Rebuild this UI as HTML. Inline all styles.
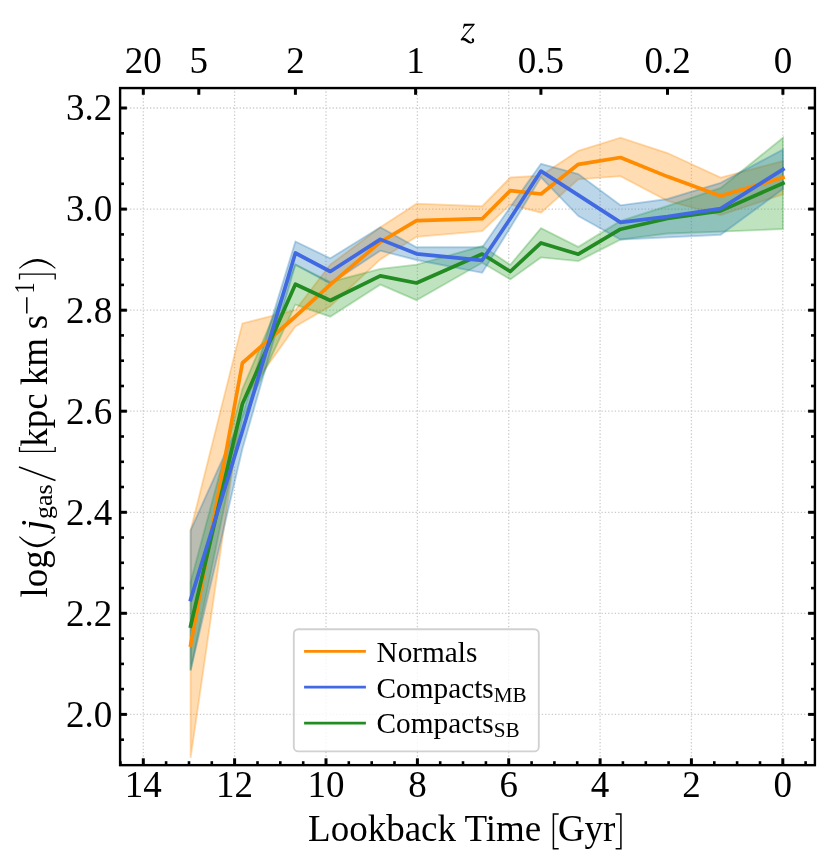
<!DOCTYPE html>
<html><head><meta charset="utf-8"><title>j_gas vs lookback time</title>
<style>html,body{margin:0;padding:0;background:#fff}svg{display:block;will-change:transform;filter:opacity(1)}text{font-family:"Liberation Serif",serif;fill:#000}</style></head><body>
<svg width="830" height="865" viewBox="0 0 830 865">
<rect width="830" height="865" fill="#fff"/>
<defs><clipPath id="c"><rect x="120.1" y="88.05" width="694.8" height="677.0500000000001"/></clipPath></defs>
<g stroke="#cccccc" stroke-width="1.3" stroke-dasharray="1.3 2.02" fill="none">
<line x1="782.8" y1="88.05" x2="782.8" y2="765.1"/>
<line x1="691.4" y1="88.05" x2="691.4" y2="765.1"/>
<line x1="600.1" y1="88.05" x2="600.1" y2="765.1"/>
<line x1="508.7" y1="88.05" x2="508.7" y2="765.1"/>
<line x1="417.4" y1="88.05" x2="417.4" y2="765.1"/>
<line x1="326.0" y1="88.05" x2="326.0" y2="765.1"/>
<line x1="234.6" y1="88.05" x2="234.6" y2="765.1"/>
<line x1="143.3" y1="88.05" x2="143.3" y2="765.1"/>
<line x1="120.1" y1="714.4" x2="814.9" y2="714.4"/>
<line x1="120.1" y1="613.3" x2="814.9" y2="613.3"/>
<line x1="120.1" y1="512.3" x2="814.9" y2="512.3"/>
<line x1="120.1" y1="411.2" x2="814.9" y2="411.2"/>
<line x1="120.1" y1="310.2" x2="814.9" y2="310.2"/>
<line x1="120.1" y1="209.1" x2="814.9" y2="209.1"/>
<line x1="120.1" y1="108.0" x2="814.9" y2="108.0"/>
</g>
<g clip-path="url(#c)">
<polygon points="190.6,530.3 242.4,323.4 295.4,310.0 330.3,264.6 380.3,227.3 416.5,203.7 482.2,206.2 510.3,177.5 541.0,175.6 578.3,150.8 620.5,137.7 667.5,153.0 720.7,177.6 783.0,161.0 783.0,194.3 720.7,215.1 667.5,201.0 620.5,176.2 578.3,179.3 541.0,212.7 510.3,204.5 482.2,231.1 416.5,236.8 380.3,259.4 330.3,306.2 295.4,326.5 242.4,401.0 190.6,757.8" fill="#ff8c00" fill-opacity="0.3" stroke="#ff8c00" stroke-opacity="0.3" stroke-width="1.85" stroke-linejoin="miter"/>
<polygon points="190.6,582.0 242.4,389.0 295.4,264.6 330.3,282.0 380.3,268.9 416.5,264.7 482.2,246.1 510.3,264.8 541.0,228.1 578.3,246.9 620.5,220.9 667.5,206.0 720.7,188.0 783.0,137.7 783.0,229.0 720.7,231.7 667.5,233.5 620.5,239.6 578.3,261.1 541.0,257.4 510.3,279.4 482.2,262.8 416.5,300.2 380.3,284.6 330.3,316.7 295.4,304.6 242.4,419.0 190.6,670.4" fill="#2ca02c" fill-opacity="0.3" stroke="#2ca02c" stroke-opacity="0.3" stroke-width="1.85" stroke-linejoin="miter"/>
<polygon points="190.6,530.3 242.4,415.0 295.4,241.5 330.3,258.3 380.3,227.3 416.5,247.2 482.2,247.2 510.3,207.0 541.0,163.8 578.3,174.1 620.5,205.3 667.5,199.0 720.7,182.8 783.0,149.5 783.0,189.1 720.7,234.8 667.5,237.3 620.5,239.6 578.3,216.1 541.0,177.3 510.3,227.8 482.2,272.8 416.5,260.0 380.3,250.7 330.3,283.7 295.4,264.6 242.4,449.0 190.6,670.4" fill="#1f77b4" fill-opacity="0.3" stroke="#1f77b4" stroke-opacity="0.3" stroke-width="1.85" stroke-linejoin="miter"/>
<polyline points="190.6,645.0 242.4,363.0 295.4,316.5 330.3,284.6 380.3,242.0 416.5,220.6 482.2,218.7 510.3,190.6 541.0,194.0 578.3,164.3 620.5,157.5 667.5,176.6 720.7,195.9 783.0,177.6" fill="none" stroke="#ff8c00" stroke-width="3.7" stroke-linejoin="round" stroke-linecap="square"/>
<polyline points="190.6,626.0 242.4,404.0 295.4,284.2 330.3,300.5 380.3,275.9 416.5,283.0 482.2,254.0 510.3,271.5 541.0,242.9 578.3,254.2 620.5,229.2 667.5,218.5 720.7,210.9 783.0,183.2" fill="none" stroke="#228b22" stroke-width="3.7" stroke-linejoin="round" stroke-linecap="square"/>
<polyline points="190.6,599.6 242.4,431.0 295.4,253.0 330.3,271.5 380.3,239.4 416.5,253.8 482.2,260.3 510.3,218.5 541.0,171.1 578.3,195.1 620.5,222.4 667.5,216.6 720.7,208.6 783.0,169.3" fill="none" stroke="#4169e1" stroke-width="3.7" stroke-linejoin="round" stroke-linecap="square"/>
</g>
<g stroke="#000" stroke-width="3.0" fill="none">
<line x1="805.6" y1="765.1" x2="805.6" y2="761.2" stroke-width="2.6"/>
<line x1="782.8" y1="765.1" x2="782.8" y2="758.3" stroke-width="3.0"/>
<line x1="760.0" y1="765.1" x2="760.0" y2="761.2" stroke-width="2.6"/>
<line x1="737.1" y1="765.1" x2="737.1" y2="761.2" stroke-width="2.6"/>
<line x1="714.3" y1="765.1" x2="714.3" y2="761.2" stroke-width="2.6"/>
<line x1="691.4" y1="765.1" x2="691.4" y2="758.3" stroke-width="3.0"/>
<line x1="668.6" y1="765.1" x2="668.6" y2="761.2" stroke-width="2.6"/>
<line x1="645.8" y1="765.1" x2="645.8" y2="761.2" stroke-width="2.6"/>
<line x1="622.9" y1="765.1" x2="622.9" y2="761.2" stroke-width="2.6"/>
<line x1="600.1" y1="765.1" x2="600.1" y2="758.3" stroke-width="3.0"/>
<line x1="577.2" y1="765.1" x2="577.2" y2="761.2" stroke-width="2.6"/>
<line x1="554.4" y1="765.1" x2="554.4" y2="761.2" stroke-width="2.6"/>
<line x1="531.6" y1="765.1" x2="531.6" y2="761.2" stroke-width="2.6"/>
<line x1="508.7" y1="765.1" x2="508.7" y2="758.3" stroke-width="3.0"/>
<line x1="485.9" y1="765.1" x2="485.9" y2="761.2" stroke-width="2.6"/>
<line x1="463.0" y1="765.1" x2="463.0" y2="761.2" stroke-width="2.6"/>
<line x1="440.2" y1="765.1" x2="440.2" y2="761.2" stroke-width="2.6"/>
<line x1="417.4" y1="765.1" x2="417.4" y2="758.3" stroke-width="3.0"/>
<line x1="394.5" y1="765.1" x2="394.5" y2="761.2" stroke-width="2.6"/>
<line x1="371.7" y1="765.1" x2="371.7" y2="761.2" stroke-width="2.6"/>
<line x1="348.8" y1="765.1" x2="348.8" y2="761.2" stroke-width="2.6"/>
<line x1="326.0" y1="765.1" x2="326.0" y2="758.3" stroke-width="3.0"/>
<line x1="303.2" y1="765.1" x2="303.2" y2="761.2" stroke-width="2.6"/>
<line x1="280.3" y1="765.1" x2="280.3" y2="761.2" stroke-width="2.6"/>
<line x1="257.5" y1="765.1" x2="257.5" y2="761.2" stroke-width="2.6"/>
<line x1="234.6" y1="765.1" x2="234.6" y2="758.3" stroke-width="3.0"/>
<line x1="211.8" y1="765.1" x2="211.8" y2="761.2" stroke-width="2.6"/>
<line x1="189.0" y1="765.1" x2="189.0" y2="761.2" stroke-width="2.6"/>
<line x1="166.1" y1="765.1" x2="166.1" y2="761.2" stroke-width="2.6"/>
<line x1="143.3" y1="765.1" x2="143.3" y2="758.3" stroke-width="3.0"/>
<line x1="120.4" y1="765.1" x2="120.4" y2="761.2" stroke-width="2.6"/>
<line x1="120.1" y1="739.7" x2="124.0" y2="739.7" stroke-width="2.6"/>
<line x1="814.9" y1="739.7" x2="811.0" y2="739.7" stroke-width="2.6"/>
<line x1="120.1" y1="714.4" x2="126.9" y2="714.4" stroke-width="3.0"/>
<line x1="814.9" y1="714.4" x2="808.1" y2="714.4" stroke-width="3.0"/>
<line x1="120.1" y1="689.1" x2="124.0" y2="689.1" stroke-width="2.6"/>
<line x1="814.9" y1="689.1" x2="811.0" y2="689.1" stroke-width="2.6"/>
<line x1="120.1" y1="663.9" x2="124.0" y2="663.9" stroke-width="2.6"/>
<line x1="814.9" y1="663.9" x2="811.0" y2="663.9" stroke-width="2.6"/>
<line x1="120.1" y1="638.6" x2="124.0" y2="638.6" stroke-width="2.6"/>
<line x1="814.9" y1="638.6" x2="811.0" y2="638.6" stroke-width="2.6"/>
<line x1="120.1" y1="613.3" x2="126.9" y2="613.3" stroke-width="3.0"/>
<line x1="814.9" y1="613.3" x2="808.1" y2="613.3" stroke-width="3.0"/>
<line x1="120.1" y1="588.1" x2="124.0" y2="588.1" stroke-width="2.6"/>
<line x1="814.9" y1="588.1" x2="811.0" y2="588.1" stroke-width="2.6"/>
<line x1="120.1" y1="562.8" x2="124.0" y2="562.8" stroke-width="2.6"/>
<line x1="814.9" y1="562.8" x2="811.0" y2="562.8" stroke-width="2.6"/>
<line x1="120.1" y1="537.5" x2="124.0" y2="537.5" stroke-width="2.6"/>
<line x1="814.9" y1="537.5" x2="811.0" y2="537.5" stroke-width="2.6"/>
<line x1="120.1" y1="512.3" x2="126.9" y2="512.3" stroke-width="3.0"/>
<line x1="814.9" y1="512.3" x2="808.1" y2="512.3" stroke-width="3.0"/>
<line x1="120.1" y1="487.0" x2="124.0" y2="487.0" stroke-width="2.6"/>
<line x1="814.9" y1="487.0" x2="811.0" y2="487.0" stroke-width="2.6"/>
<line x1="120.1" y1="461.8" x2="124.0" y2="461.8" stroke-width="2.6"/>
<line x1="814.9" y1="461.8" x2="811.0" y2="461.8" stroke-width="2.6"/>
<line x1="120.1" y1="436.5" x2="124.0" y2="436.5" stroke-width="2.6"/>
<line x1="814.9" y1="436.5" x2="811.0" y2="436.5" stroke-width="2.6"/>
<line x1="120.1" y1="411.2" x2="126.9" y2="411.2" stroke-width="3.0"/>
<line x1="814.9" y1="411.2" x2="808.1" y2="411.2" stroke-width="3.0"/>
<line x1="120.1" y1="386.0" x2="124.0" y2="386.0" stroke-width="2.6"/>
<line x1="814.9" y1="386.0" x2="811.0" y2="386.0" stroke-width="2.6"/>
<line x1="120.1" y1="360.7" x2="124.0" y2="360.7" stroke-width="2.6"/>
<line x1="814.9" y1="360.7" x2="811.0" y2="360.7" stroke-width="2.6"/>
<line x1="120.1" y1="335.4" x2="124.0" y2="335.4" stroke-width="2.6"/>
<line x1="814.9" y1="335.4" x2="811.0" y2="335.4" stroke-width="2.6"/>
<line x1="120.1" y1="310.2" x2="126.9" y2="310.2" stroke-width="3.0"/>
<line x1="814.9" y1="310.2" x2="808.1" y2="310.2" stroke-width="3.0"/>
<line x1="120.1" y1="284.9" x2="124.0" y2="284.9" stroke-width="2.6"/>
<line x1="814.9" y1="284.9" x2="811.0" y2="284.9" stroke-width="2.6"/>
<line x1="120.1" y1="259.6" x2="124.0" y2="259.6" stroke-width="2.6"/>
<line x1="814.9" y1="259.6" x2="811.0" y2="259.6" stroke-width="2.6"/>
<line x1="120.1" y1="234.4" x2="124.0" y2="234.4" stroke-width="2.6"/>
<line x1="814.9" y1="234.4" x2="811.0" y2="234.4" stroke-width="2.6"/>
<line x1="120.1" y1="209.1" x2="126.9" y2="209.1" stroke-width="3.0"/>
<line x1="814.9" y1="209.1" x2="808.1" y2="209.1" stroke-width="3.0"/>
<line x1="120.1" y1="183.8" x2="124.0" y2="183.8" stroke-width="2.6"/>
<line x1="814.9" y1="183.8" x2="811.0" y2="183.8" stroke-width="2.6"/>
<line x1="120.1" y1="158.6" x2="124.0" y2="158.6" stroke-width="2.6"/>
<line x1="814.9" y1="158.6" x2="811.0" y2="158.6" stroke-width="2.6"/>
<line x1="120.1" y1="133.3" x2="124.0" y2="133.3" stroke-width="2.6"/>
<line x1="814.9" y1="133.3" x2="811.0" y2="133.3" stroke-width="2.6"/>
<line x1="120.1" y1="108.0" x2="126.9" y2="108.0" stroke-width="3.0"/>
<line x1="814.9" y1="108.0" x2="808.1" y2="108.0" stroke-width="3.0"/>
<line x1="143.3" y1="88.05" x2="143.3" y2="94.8"/>
<line x1="198.8" y1="88.05" x2="198.8" y2="94.8"/>
<line x1="295.4" y1="88.05" x2="295.4" y2="94.8"/>
<line x1="415.6" y1="88.05" x2="415.6" y2="94.8"/>
<line x1="540.9" y1="88.05" x2="540.9" y2="94.8"/>
<line x1="667.5" y1="88.05" x2="667.5" y2="94.8"/>
<line x1="782.9" y1="88.05" x2="782.9" y2="94.8"/>
</g>
<rect x="120.1" y="88.05" width="694.8" height="677.1" fill="none" stroke="#000" stroke-width="2.4"/>
<g font-size="37px" text-anchor="middle">
<text x="782.8" y="796.9">0</text>
<text x="691.4" y="796.9">2</text>
<text x="600.1" y="796.9">4</text>
<text x="508.7" y="796.9">6</text>
<text x="417.4" y="796.9">8</text>
<text x="326.0" y="796.9">10</text>
<text x="234.6" y="796.9">12</text>
<text x="143.3" y="796.9">14</text>
<text x="143.3" y="72.6">20</text>
<text x="198.8" y="72.6">5</text>
<text x="295.4" y="72.6">2</text>
<text x="415.6" y="72.6">1</text>
<text x="540.9" y="72.6">0.5</text>
<text x="667.5" y="72.6">0.2</text>
<text x="782.9" y="72.6">0</text>
</g>
<g font-size="37px" text-anchor="end">
<text x="112.3" y="726.7">2.0</text>
<text x="112.3" y="625.6">2.2</text>
<text x="112.3" y="524.6">2.4</text>
<text x="112.3" y="423.5">2.6</text>
<text x="112.3" y="322.5">2.8</text>
<text x="112.3" y="221.4">3.0</text>
<text x="112.3" y="120.3">3.2</text>
</g>
<text x="308.1" y="840.9" font-size="37px">Lookback</text>
<text x="464.4" y="840.9" font-size="37px">Time</text>
<text x="557.9" y="840.9" font-size="37px">Gyr</text>
<path d="M558.7,813.9 H553.4 V848.7 H558.7" fill="none" stroke="#000" stroke-width="1.5"/>
<path d="M615.6,813.9 H620.9 V848.7 H615.6" fill="none" stroke="#000" stroke-width="1.5"/>
<g id="zlab"><path d="M463.9,23.7 L474.8,23.7 L473.7,25.5 L465.4,25.9 Q464.3,26.3 463.7,28.6 L462.9,28.6 Z" fill="#000"/>
<path d="M474.2,24.2 L461.0,39.9" fill="none" stroke="#000" stroke-width="1.15"/>
<path d="M460.7,40.4 L462.7,37.8 Q465.6,37.5 467.6,39.5 Q469.9,42.1 471.6,41.9 Q472.6,41.7 472.2,40.7 A1.25,1.25 0 1 1 474.1,39.8 Q474.7,43.1 470.9,43.4 Q468.4,43.5 466.0,41.4 Q463.6,39.6 460.7,40.4 Z" fill="#000"/></g>
<g transform="translate(47,597) rotate(-90)" font-size="37px">
<text x="-0.5" y="0">log</text>
<path d="M59.9,-28 Q39.7,-9.65 59.9,8.7 L60.7,8.0 Q44.2,-9.65 60.7,-27.3 Z" fill="#000"/>
<text x="67" y="0" font-style="italic">j</text>
<text x="78" y="4.9" font-size="25.9px">gas</text>
<line x1="116.5" y1="8.5" x2="130" y2="-28" stroke="#000" stroke-width="1.6"/>
<path d="M149.9,-27.5 H145.6 V8.2 H149.9" fill="none" stroke="#000" stroke-width="1.3"/>
<text x="150.2" y="0">kpc</text>
<text x="211.8" y="0">km</text>
<text x="267.7" y="0">s</text>
<line x1="283.6" y1="-20.2" x2="299.8" y2="-20.2" stroke="#000" stroke-width="1.5"/>
<text transform="translate(303.6,-13.3) scale(0.76,1)" x="0" y="0" font-size="29.3px">1</text>
<path d="M317.6,-27.5 H322.9 V8.2 H317.6" fill="none" stroke="#000" stroke-width="1.3"/>
<path d="M329.1,-28 Q346.9,-9.65 329.1,8.7 L328.3,8.0 Q342.6,-9.65 328.3,-27.3 Z" fill="#000"/>
</g>
<rect x="293.8" y="629.2" width="245" height="122.2" rx="4.5" ry="4.5" fill="#fff" fill-opacity="0.8" stroke="#cccccc" stroke-opacity="0.9" stroke-width="1.85"/>
<line x1="304.1" y1="651.3" x2="365.9" y2="651.3" stroke="#ff8c00" stroke-width="2.75"/>
<line x1="304.1" y1="687.2" x2="365.9" y2="687.2" stroke="#4169e1" stroke-width="2.75"/>
<line x1="304.1" y1="723.1" x2="365.9" y2="723.1" stroke="#228b22" stroke-width="2.75"/>
<g font-size="29.3px">
<text x="376.5" y="662.1">Normals</text>
<text x="376.5" y="698">Compacts<tspan font-size="21.2px" dy="4">MB</tspan></text>
<text x="376.5" y="733">Compacts<tspan font-size="21.2px" dy="4">SB</tspan></text>
</g>
</svg></body></html>
